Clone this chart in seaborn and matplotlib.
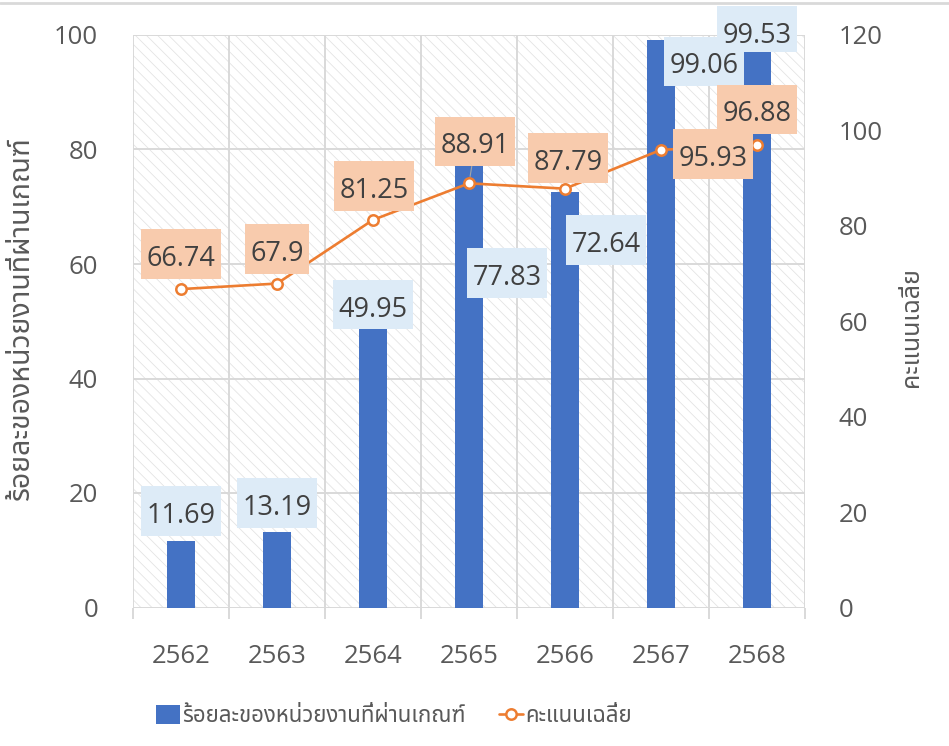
import numpy as np
import pandas as pd
import matplotlib
matplotlib.use("Agg")
import matplotlib.pyplot as plt
import seaborn as sns
from matplotlib import font_manager as fm
from matplotlib.ft2font import FT2Font
from matplotlib.patches import Rectangle
from matplotlib.lines import Line2D
from matplotlib.path import Path

# ---------------- data ----------------
years = ["2562", "2563", "2564", "2565", "2566", "2567", "2568"]
pct_passed = [11.69, 13.19, 49.95, 77.83, 72.64, 99.06, 99.53]
avg_score = [66.74, 67.9, 81.25, 88.91, 87.79, 95.93, 96.88]
left_label = "ร้อยละของหน่วยงานที่ผ่านเกณฑ์"
right_label = "คะแนนเฉลี่ย"
left_ticks = [0, 20, 40, 60, 80, 100]
right_ticks = [0, 20, 40, 60, 80, 100, 120]

# label offsets in pixels (style/placement only)
bar_lbl_off = [(0, 25), (0, 24), (0, 12), (38, -116), (41, -53), (43, -26), (0, 2)]
line_lbl_off = [(0, 30), (0, 30), (1, 29), (6, 37), (3, 26), (52, -9), (0, 31)]

# ---------------- fonts ----------------
thai_fonts = set()
for f in fm.fontManager.ttflist:
    try:
        if FT2Font(f.fname).get_char_index(0x0E04):
            thai_fonts.add(f.name)
    except Exception:
        pass
pref = [n for n in ["Noto Sans Thai", "IBM Plex Sans Thai", "Sarabun", "Loma"] if n in thai_fonts]
thai = (pref + sorted(thai_fonts) + ["DejaVu Sans"])[0]

sns.set_theme(style="white")
plt.rcParams["font.family"] = ["Open Sans", thai, "DejaVu Sans"]
plt.rcParams["hatch.linewidth"] = 0.6

BLUE = "#4472C4"
ORANGE = "#ED7D31"
GRID = "#D9D9D9"
TXT = "#595959"
LBL = "#404040"


def make_box(top=0.58, bottom=0.22, side=0.21):
    def label_box(x0, y0, width, height, mutation_size):
        a, b = x0 - side * mutation_size, y0 - bottom * mutation_size
        c, d = x0 + width + side * mutation_size, y0 + height + top * mutation_size
        return Path([(a, b), (c, b), (c, d), (a, d), (a, b)], closed=True)
    return label_box


fig = plt.figure(figsize=(9.49, 7.46), dpi=100)
ax = fig.add_axes([133 / 949, 1 - 607.5 / 746, 672 / 949, 572.5 / 746])
ax.set_facecolor("white")

# hatched plot area
ax.add_patch(Rectangle((0, 0), 1, 1, transform=ax.transAxes, facecolor="white",
                       edgecolor="#E4E4E4", hatch="\\\\\\", linewidth=0, zorder=0))

df = pd.DataFrame({"year": years, "pct": pct_passed, "score": avg_score})
sns.barplot(data=df, x="year", y="pct", color=BLUE, width=0.29, ax=ax,
            saturation=1, zorder=2, edgecolor="none")

ax.set_ylim(0, 100)
ax.set_xlim(-0.5, len(years) - 0.5)
ax.set_yticks(left_ticks)
ax.set_xticks(range(len(years)))
ax.set_xticklabels(years)
ax.set_xticks(np.arange(-0.5, len(years)), minor=True)
ax.grid(False)
ax.yaxis.grid(True, color=GRID, linewidth=1.4, zorder=1)
ax.xaxis.grid(True, which="minor", color=GRID, linewidth=1.4, zorder=1)
ax.set_axisbelow(True)
for s in ax.spines.values():
    s.set_visible(False)
ax.tick_params(axis="x", which="major", length=0, pad=26, labelsize=18.5, labelcolor=TXT)
ax.tick_params(axis="x", which="minor", length=8, width=1.4, color=GRID, direction="out", bottom=True)
ax.tick_params(axis="y", length=0, pad=25, labelsize=18.5, labelcolor=TXT)
ax.set_xlabel("")
ax.set_ylabel("")

ax2 = ax.twinx()
xpos = np.arange(len(years))
sns.lineplot(x=xpos, y=avg_score, ax=ax2, color=ORANGE, linewidth=1.9, marker="o",
             markersize=7.5, markerfacecolor="white", markeredgecolor=ORANGE,
             markeredgewidth=1.8, zorder=3)
ax2.set_ylim(0, 120)
ax2.set_yticks(right_ticks)
for s in ax2.spines.values():
    s.set_visible(False)
ax2.tick_params(axis="y", length=0, pad=24, labelsize=18.5, labelcolor=TXT)
ax2.set_ylabel("")
ax2.grid(False)

# data labels
for i, v in enumerate(pct_passed):
    style = make_box(bottom=0.1) if i == len(pct_passed) - 1 else make_box()
    ax2.annotate(f"{v:g}", xy=(i, v * 1.2), xytext=bar_lbl_off[i], textcoords="offset pixels",
                 ha="center", va="center", fontsize=19.5, color=LBL, zorder=5 + (i == 6),
                 bbox=dict(boxstyle=style, facecolor="#DDEBF7", edgecolor="none"))
for i, v in enumerate(avg_score):
    arrow = dict(arrowstyle="-", color="#A6A6A6", lw=0.8, shrinkA=0, shrinkB=5) if i == 3 else None
    ax2.annotate(f"{v:g}", xy=(i, v), xytext=line_lbl_off[i], textcoords="offset pixels",
                 ha="center", va="center", fontsize=19.5, color=LBL, zorder=5,
                 arrowprops=arrow,
                 bbox=dict(boxstyle=make_box(), facecolor="#F8CBAD", edgecolor="none"))

# axis titles
fig.text(22 / 949, 1 - 318 / 746, left_label, rotation=90, ha="center", va="center",
         fontsize=20.5, color=TXT)
fig.text(912 / 949, 1 - 327 / 746, right_label, rotation=90, ha="center", va="center",
         fontsize=18, color=TXT)

# legend
handles = [Rectangle((0, 0), 1, 1, facecolor=BLUE, edgecolor="none"),
           Line2D([], [], color=ORANGE, linewidth=1.9, marker="o", markersize=7.5,
                  markerfacecolor="white", markeredgecolor=ORANGE, markeredgewidth=1.8)]
fig.legend(handles, [left_label, right_label], loc="center", bbox_to_anchor=(394 / 949, 1 - 716 / 746),
           ncol=2, frameon=False, fontsize=16, labelcolor=TXT, handlelength=1.1,
           handletextpad=0.1, columnspacing=1.5, handleheight=0.9)

# top border line
fig.add_artist(Line2D([0, 1], [1 - 3 / 746, 1 - 3 / 746], transform=fig.transFigure,
                      color="#D9D9D9", linewidth=2))

fig.savefig("out.png", dpi=100)
